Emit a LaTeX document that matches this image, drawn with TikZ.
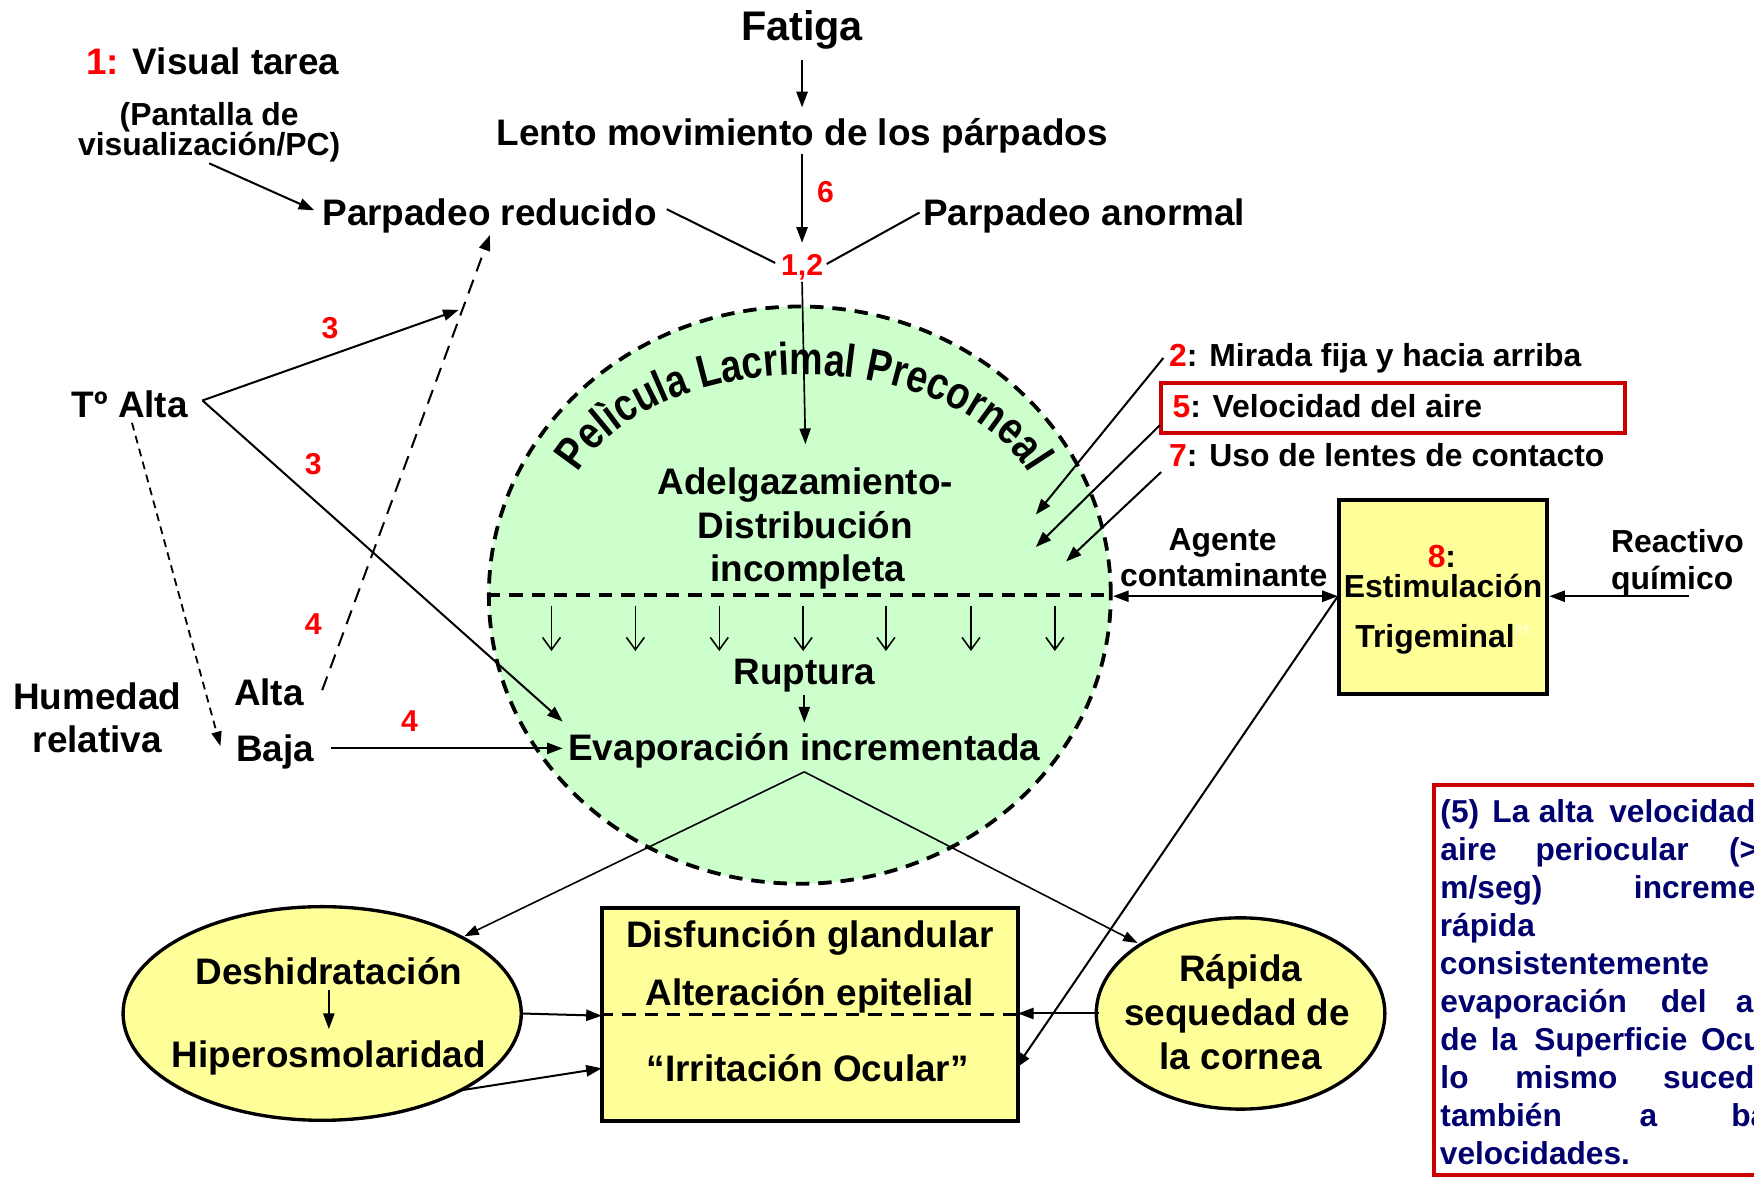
\documentclass[tikz,border=0pt]{standalone}
\usepackage{fontspec}
\setmainfont{Liberation Sans}
\newfontfamily\arcfont[FakeStretch=0.82]{Liberation Sans}
\usetikzlibrary{arrows.meta,shapes.geometric,decorations.text}
\definecolor{filmgreen}{HTML}{CCFFCC}
\definecolor{boxyellow}{HTML}{FFFF99}
\definecolor{numred}{HTML}{FF0000}
\definecolor{boxred}{HTML}{CC0000}
\definecolor{notenavy}{RGB}{0,0,110}
\definecolor{paleq}{HTML}{FFFFCC}
\newcommand\myfs[1]{\fontsize{#1}{#1}\selectfont}
\newcommand\rn[1]{\textcolor{numred}{#1}}
\newcommand\wordat[2]{\rlap{\hspace{#1pt}#2}}
\begin{document}
\begin{tikzpicture}[x=1pt,y=1pt,
  txt/.style={inner sep=0pt, anchor=base, font=\bfseries\myfs{33}},
  txtw/.style={txt, anchor=base west},
  smalltxt/.style={inner sep=0pt, anchor=base, font=\bfseries\myfs{28.5}},
  smalltxtw/.style={smalltxt, anchor=base west},
  num/.style={inner sep=0pt, anchor=base, font=\bfseries\myfs{27}, text=numred},
  notetxt/.style={inner sep=0pt, anchor=base west, font=\bfseries\myfs{28.3}, text=notenavy},
  arr/.style={line width=1.8pt, -{Triangle[length=14pt,width=10pt]}},
  thinarr/.style={line width=1.4pt, -{Triangle[length=13pt,width=9pt]}},
  plainline/.style={line width=1.8pt},
  bigdash/.style={line width=3.4pt, dash pattern=on 12pt off 8pt},
  vee/.style={line width=1.4pt, -{Straight Barb[length=11pt,width=16pt]}},
  yshape/.style={draw, line width=3pt, fill=boxyellow, inner sep=0pt}
]
\useasboundingbox (0,0) rectangle (1568,-1053);

% ---------- tear film circle ----------
\node[ellipse, draw, bigdash, fill=filmgreen, minimum width=556, minimum height=516, inner sep=0pt] (film) at (715,-532) {};
\draw[bigdash] (film.west) -- (film.east);
\path[decorate, decoration={text along path, text align=center,
  text={|\arcfont\bfseries\myfs{41}|Pelìcula Lacrimal Precorneal}}]
  ([shift={(718,-470)}]170:215 and 135) arc[start angle=170, end angle=10, x radius=215, y radius=135];

% ---------- yellow shapes ----------
\node[ellipse, yshape, minimum width=356, minimum height=191] (deshid) at (288,-906) {};
\node[rectangle, yshape, line width=3.5pt, minimum width=372, minimum height=190] (glbox) at (724,-907) {};
\draw[bigdash, line width=3pt] (glbox.west) -- (glbox.east);
\node[ellipse, yshape, minimum width=258, minimum height=171] (rapida) at (1109,-906) {};
\node[rectangle, yshape, line width=3.5pt, minimum width=186, minimum height=173] (trig) at (1290,-533.5) {};
\node[rectangle, draw=boxred, line width=3.5pt, minimum width=415, minimum height=45, inner sep=0pt] (velbox) at (1245.5,-364.5) {};

% ---------- texts ----------
\node[txt, font=\bfseries\myfs{37}] (fatiga) at (717,-36) {Fatiga};
\node[txt] (lento) at (717,-130) {Lento movimiento de los párpados};
\node[txtw] (visual) at (77,-67) {\rn{1:} Visual tarea};
\node[smalltxt] (pant1) at (187,-112) {(Pantalla de};
\node[smalltxt] (pant2) at (187,-139) {visualización/PC)};
\node[txtw] (preduc) at (288,-202) {Parpadeo reducido};
\node[txtw] (panorm) at (825,-202) {Parpadeo anormal};
\node[num] (n6) at (738,-181) {6};
\node[num] (n12) at (717,-246) {1,2};
\node[txtw] (talta) at (64,-373) {Tº Alta};
\node[num] (n3a) at (295,-303) {3};
\node[num] (n3b) at (280,-424) {3};
\node[num] (n4a) at (280,-567) {4};
\node[num] (n4b) at (366,-654) {4};
\node[txt] (hum1) at (87,-634) {Humedad};
\node[txt] (hum2) at (87,-673) {relativa};
\node[txtw] (alta) at (209,-631) {Alta};
\node[txtw] (baja) at (211,-681) {Baja};

\node[txt] (adel1) at (720,-442) {Adelgazamiento-};
\node[txt] (adel2) at (720,-481) {Distribución};
\node[txt] (adel3) at (722,-520) {incompleta};
\node[txt] (ruptura) at (719,-612) {Ruptura};
\node[txt] (evap) at (719,-680) {Evaporación incrementada};

\node[smalltxtw] (mirada) at (1045,-328) {\rn{2}: Mirada fija y hacia arriba};
\node[smalltxtw] (veloc) at (1048,-373) {\rn{5}: Velocidad del aire};
\node[smalltxtw] (lentes) at (1045,-417) {\rn{7}: Uso de lentes de contacto};
\node[smalltxt] (agente1) at (1093,-492) {Agente};
\node[smalltxt] (agente2) at (1094,-524) {contaminante};
\node[smalltxt] (trig1) at (1289,-507) {\rn{8}:};
\node[smalltxt] (trig2) at (1290,-534) {Estimulación};
\node[smalltxt] (trig3) at (1290,-579) {Trigeminal\textcolor{paleq}{”}};
\node[smalltxtw] (react1) at (1440,-494) {Reactivo};
\node[smalltxtw] (react2) at (1440,-527) {químico};

\node[txt] (des1) at (294,-880) {Deshidratación};
\node[txt] (des2) at (294,-954) {Hiperosmolaridad};
\node[txt] (gl1) at (724,-847) {Disfunción glandular};
\node[txt] (gl2) at (724,-899) {Alteración epitelial};
\node[txt] (gl3) at (722,-967) {“Irritación Ocular”};
\node[txt] (rap1) at (1109,-877) {Rápida};
\node[txt] (rap2) at (1106,-917) {sequedad de};
\node[txt] (rap3) at (1109,-956) {la cornea};

% ---------- connector end points ----------
\coordinate (fat-s) at (717,-54);
\coordinate (lento-n) at (717,-96);
\coordinate (lento-s) at (717,-138);
\coordinate (n12-n) at (717,-217);
\coordinate (n12-s) at (717,-252);
\coordinate (n12-w) at (693,-235);
\coordinate (n12-e) at (739,-236);
\coordinate (preduc-e) at (596,-187);
\coordinate (panorm-w) at (822,-190);
\coordinate (adel-n) at (720,-397);
\coordinate (pant-s) at (187,-146);
\coordinate (preduc-w) at (281,-188);
\coordinate (talta-e) at (181,-358);
\coordinate (dash-mid) at (410,-277);
\coordinate (evap-nw) at (503,-645);
\coordinate (talta-s) at (118,-378);
\coordinate (baja-w) at (197,-667);
\coordinate (alta-e) at (288,-617);
\coordinate (preduc-s) at (438,-210);
\coordinate (baja-e) at (296,-669);
\coordinate (evap-w) at (503,-669);
\coordinate (rup-s) at (719,-621);
\coordinate (evap-n) at (719,-646);
\coordinate (evap-s) at (719,-690);
\coordinate (deshid-ne) at (415,-837);
\coordinate (rapida-nw) at (1017,-843);
\coordinate (deshid-e) at (466,-906);
\coordinate (glbox-w1) at (538,-908);
\coordinate (deshid-se) at (410,-975);
\coordinate (glbox-w2) at (538,-955);
\coordinate (rapida-w) at (982,-906);
\coordinate (glbox-e1) at (910,-906);
\coordinate (glbox-e2) at (908,-955);
\coordinate (des-a) at (294,-885);
\coordinate (des-b) at (294,-920);
\coordinate (film-e) at (995,-533);
\coordinate (trig-w) at (1196,-533);
\coordinate (trig-e) at (1385,-533);
\coordinate (react-w) at (1510,-533);
\coordinate (mir-w) at (1040,-320);
\coordinate (mir-t) at (926,-460);
\coordinate (vel-w) at (1037,-380);
\coordinate (vel-t) at (926,-489);
\coordinate (len-w) at (1038,-422);
\coordinate (len-t) at (953,-502);

% ---------- connectors ----------
\draw[arr] (fat-s) -- (lento-n);
\draw[arr] (lento-s) -- (n12-n);
\draw[plainline] (preduc-e) -- (n12-w);
\draw[plainline] (panorm-w) -- (n12-e);
\draw[arr, line width=1.5pt] (n12-s) -- (adel-n);
\draw[arr] (pant-s) -- (preduc-w);
\draw[arr] (talta-e) -- (dash-mid);
\draw[arr] (talta-e) -- (evap-nw);
\draw[line width=1.6pt, dash pattern=on 7pt off 5pt, -{Triangle[length=13pt,width=9pt]}] (talta-s) -- (baja-w);
\draw[line width=1.8pt, dash pattern=on 13pt off 8pt, -{Triangle[length=14pt,width=10pt]}] (alta-e) -- (preduc-s);
\draw[arr] (baja-e) -- (evap-w);
\foreach \xx [count=\i] in {493,568,643,718,792,868,943}{
  \coordinate (va\i) at (\xx,-542);
  \coordinate (vb\i) at (\xx,-582);
  \draw[vee] (va\i) -- (vb\i);
}
\draw[arr, line width=1.5pt] (rup-s) -- (evap-n);
\draw[thinarr] (evap-s) -- (deshid-ne);
\draw[thinarr] (evap-s) -- (rapida-nw);
\draw[arr] (deshid-e) -- (glbox-w1);
\draw[arr] (deshid-se) -- (glbox-w2);
\draw[arr] (rapida-w) -- (glbox-e1);
\draw[arr, line width=1.5pt] (des-a) -- (des-b);
\draw[line width=1.8pt, {Triangle[length=14pt,width=10pt]}-{Triangle[length=14pt,width=10pt]}] (film-e) -- (trig-w);
\draw[arr] (react-w) -- (trig-e);
\draw[arr] (trig-w) -- (glbox-e2);
\draw[arr] (mir-w) -- (mir-t);
\draw[arr] (vel-w) -- (vel-t);
\draw[arr] (len-w) -- (len-t);

% ---------- note box (cut by the page edge) ----------
\begin{scope}
\clip (0,0) rectangle (1568,-1053);
\draw[boxred, line width=3.5pt, fill=white] (1282,-702) rectangle (1600,-1050);
\node[notetxt] (nl1) at (1287,-735) {\wordat{0}{(5)}\wordat{46.5}{La}\wordat{88}{alta}\wordat{151}{velocidad}};
\node[notetxt] (nl2) at (1287,-769) {\wordat{0}{aire}\wordat{85}{periocular}\wordat{258}{(>}};
\node[notetxt] (nl3) at (1287,-803) {\wordat{0}{m/seg)}\wordat{173}{incrementa}};
\node[notetxt] (nl4) at (1287,-837) {rápida};
\node[notetxt] (nl5) at (1287,-871) {consistentemente};
\node[notetxt] (nl6) at (1287,-905) {\wordat{0}{evaporación}\wordat{197}{del}\wordat{264}{agua}};
\node[notetxt] (nl7) at (1287,-939) {\wordat{0}{de}\wordat{45}{la}\wordat{84}{Superficie}\wordat{233}{Ocular,}};
\node[notetxt] (nl8) at (1287,-973) {\wordat{0}{lo}\wordat{67}{mismo}\wordat{199}{sucede}};
\node[notetxt] (nl9) at (1287,-1007) {\wordat{0}{también}\wordat{178}{a}\wordat{260}{bajas}};
\node[notetxt] (nl10) at (1287,-1041) {velocidades.};
\end{scope}
\end{tikzpicture}
\end{document}
